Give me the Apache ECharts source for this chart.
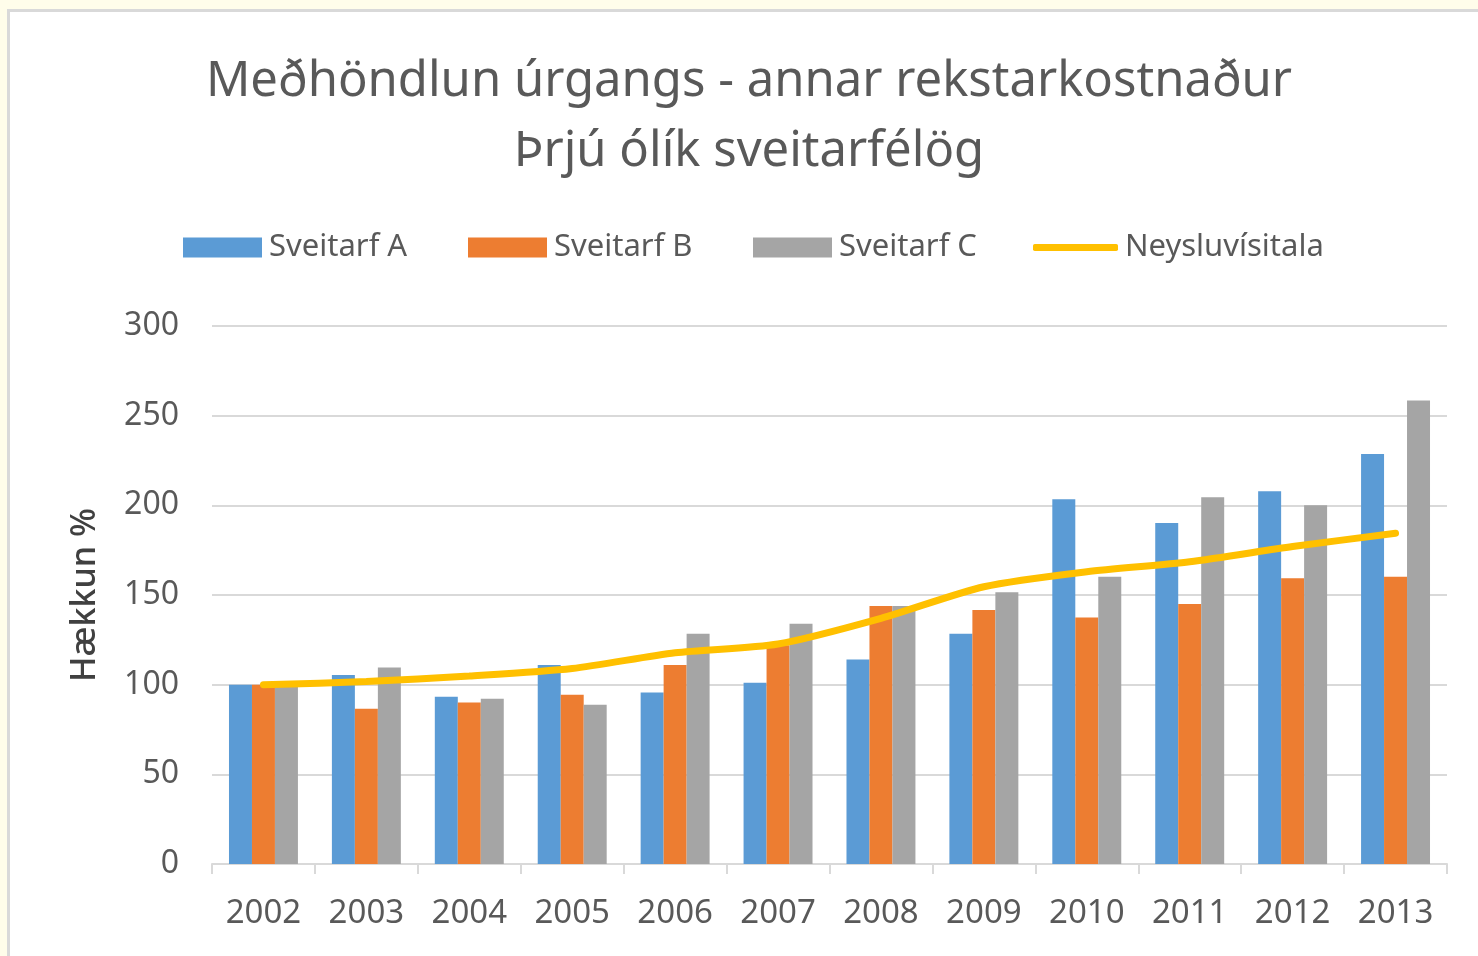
<!DOCTYPE html>
<html>
<head>
<meta charset="utf-8">
<script src="https://cdn.jsdelivr.net/npm/echarts@6/dist/echarts.min.js"></script>
<style>
  html, body { margin: 0; padding: 0; background: #fffdea; }
  #frame { position: absolute; left: 7px; top: 9px; width: 1480px; height: 960px; background: #ffffff; border-left: 3px solid #d9d9d9; border-top: 3px solid #d9d9d9; box-sizing: border-box; }
  #chart { position: absolute; left: 0; top: 0; width: 1478px; height: 956px; }
</style>
</head>
<body>
<div id="frame"></div>
<div id="chart"></div>
<script>
const years = ['2002','2003','2004','2005','2006','2007','2008','2009','2010','2011','2012','2013'];
const sveitarfA = [100, 105.4, 93.3, 111, 95.7, 101.1, 114.1, 128.4, 203.4, 190.1, 207.8, 228.6];
const sveitarfB = [100, 86.6, 90.0, 94.4, 111, 122, 143.9, 141.6, 137.4, 145, 159.3, 160.2];
const sveitarfC = [100, 109.6, 92.2, 88.8, 128.4, 134, 143.9, 151.5, 160.2, 204.5, 200, 258.4];
const neysluvisitala = [100, 101.7, 104.8, 109, 117.8, 122.7, 137, 154.6, 163, 168.5, 177, 184.4];
const yTicks = [0, 50, 100, 150, 200, 250, 300];

const FONT = '"Noto Sans", "Open Sans", sans-serif';
const chart = echarts.init(document.getElementById('chart'), null, { renderer: 'canvas' });

const legendText = { color: '#595959', fontSize: 31, fontFamily: FONT, padding: [0, 0, 0, 2] };
function mkLegend(name, left, w, h, icon) {
  return { data: [{ name: name, icon: icon }], left: left, top: 227, itemWidth: w, itemHeight: h, itemGap: 0,
           textStyle: legendText, selectedMode: false };
}

chart.setOption({
  backgroundColor: 'transparent',
  animation: false,
  title: {
    text: 'Meðhöndlun úrgangs - annar rekstarkostnaður\nÞrjú ólík sveitarfélög',
    left: 744, textAlign: 'center', top: 42,
    textStyle: { color: '#595959', fontSize: 49, fontWeight: 'normal', fontFamily: FONT, lineHeight: 70 }
  },
  legend: [
    mkLegend('Sveitarf A', 178, 79, 20, 'rect'),
    mkLegend('Sveitarf B', 463, 79, 20, 'rect'),
    mkLegend('Sveitarf C', 748, 79, 20, 'rect'),
    mkLegend('Neysluvísitala', 1028, 85, 7, 'roundRect')
  ],
  grid: { left: 212, right: 31, top: 326, bottom: 92 },
  xAxis: {
    type: 'category',
    data: years,
    axisLine: { lineStyle: { color: '#d9d9d9', width: 2 } },
    axisTick: { show: true, length: 10, lineStyle: { color: '#d9d9d9', width: 2 } },
    axisLabel: { color: '#595959', fontSize: 33, fontFamily: FONT, margin: 33 }
  },
  yAxis: {
    type: 'value', min: 0, max: 300, interval: 50,
    name: 'Hækkun %', nameLocation: 'middle', nameGap: 110, nameRotate: 90,
    nameTextStyle: { color: '#404040', fontSize: 34, fontFamily: FONT, fontWeight: 500 },
    axisLine: { show: false }, axisTick: { show: false },
    axisLabel: { color: '#595959', fontSize: 32, fontFamily: FONT, margin: 33,
                 formatter: v => yTicks.indexOf(v) >= 0 ? String(v) : '' },
    splitLine: { lineStyle: { color: '#d9d9d9', width: 2 } }
  },
  series: [
    { name: 'Sveitarf A', type: 'bar', data: sveitarfA, barGap: '0%', barCategoryGap: '33%',
      itemStyle: { color: '#5b9bd5' } },
    { name: 'Sveitarf B', type: 'bar', data: sveitarfB, barGap: '0%', barCategoryGap: '33%',
      itemStyle: { color: '#ed7d31' } },
    { name: 'Sveitarf C', type: 'bar', data: sveitarfC, barGap: '0%', barCategoryGap: '33%',
      itemStyle: { color: '#a5a5a5' } },
    { name: 'Neysluvísitala', type: 'line', data: neysluvisitala, smooth: 0.25,
      symbol: 'none', lineStyle: { color: '#ffc000', width: 7, cap: 'round' },
      itemStyle: { color: '#ffc000' }, z: 5 }
  ]
});
</script>
</body>
</html>
